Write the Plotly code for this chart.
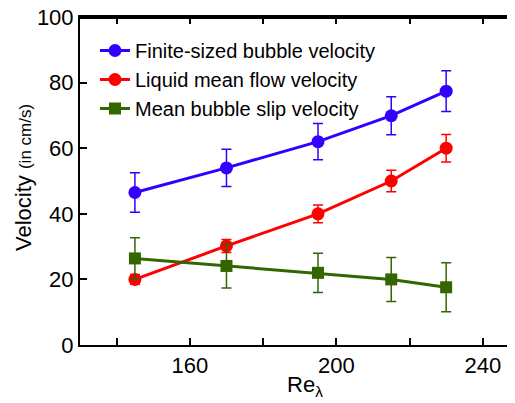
import plotly.graph_objects as go

re_lambda = [145, 170, 195, 215, 230]
bubble_vel = [46.5, 54.0, 62.0, 69.9, 77.4]
bubble_err = [6.0, 5.7, 5.5, 5.8, 6.2]
liquid_vel = [20.0, 30.2, 40.0, 50.0, 60.0]
liquid_err = [1.5, 2.0, 2.7, 3.3, 4.2]
slip_vel = [26.4, 24.1, 22.0, 20.0, 17.6]
slip_err = [6.3, 6.7, 6.0, 6.7, 7.5]

series = [
    ("Finite-sized bubble velocity", bubble_vel, bubble_err, "#3300ff", "circle", 13),
    ("Liquid mean flow velocity", liquid_vel, liquid_err, "#ff0000", "circle", 13),
    ("Mean bubble slip velocity", slip_vel, slip_err, "#336600", "square", 12),
]

fig = go.Figure()
for name, y, e, c, sym, sz in series:
    fig.add_trace(go.Scatter(
        x=re_lambda, y=y, name=name, mode="lines+markers",
        line=dict(color=c, width=3),
        marker=dict(color=c, symbol=sym, size=sz),
        error_y=dict(type="data", array=e, visible=True, color=c, thickness=1.5, width=5),
    ))

font = "Liberation Sans, Arial, Helvetica, sans-serif"
OFF = 8  # page body margin
W, H = 515 - OFF, 403 - OFF
L, R, T, B = 80 - OFF, 0, 17 - OFF, 58
pw, ph = W - L - R, H - T - B

def px_x(x):
    return (x - OFF - L) / pw

def px_y(y):
    return 1 - (y - OFF - T) / ph

fig.update_layout(
    width=W, height=H,
    margin=dict(l=L, r=R, t=T, b=B, pad=0),
    plot_bgcolor="white", paper_bgcolor="white",
    font=dict(family=font, color="black", size=22),
    showlegend=True,
    legend=dict(x=px_x(95), y=px_y(31), xanchor="left", yanchor="top",
                bgcolor="rgba(0,0,0,0)", font=dict(size=20), tracegroupgap=0,
                borderwidth=0),
    annotations=[
        dict(text="Re<sub>λ</sub>", xref="paper", yref="paper",
             x=px_x(305), y=px_y(386),
             xanchor="center", yanchor="middle", showarrow=False,
             font=dict(size=22)),
        dict(text="Velocity <span style='font-size:17px'>(in cm/s)</span>",
             xref="paper", yref="paper", textangle=-90,
             x=px_x(23), y=px_y(177),
             xanchor="center", yanchor="middle", showarrow=False,
             font=dict(size=22)),
    ],
    shapes=[
        dict(type="line", xref="paper", yref="paper", x0=0, x1=1, y0=1, y1=1,
             line=dict(color="black", width=4), layer="above"),
    ],
)
fig.update_xaxes(
    range=[130, 248.8], automargin=False, ticklabeloverflow="allow",
    tickvals=[140, 160, 180, 200, 220, 240],
    ticktext=["", "160", "", "200", "", "240"],
    ticks="inside", ticklen=7, tickwidth=1.5, tickcolor="black",
    showline=True, linewidth=2, linecolor="black", mirror="ticks",
    showgrid=False, zeroline=False,
    tickfont=dict(size=22),
)
fig.update_yaxes(
    range=[0, 100], automargin=False, ticklabeloverflow="allow",
    tickvals=[0, 20, 40, 60, 80, 100],
    ticks="inside", ticklen=7, tickwidth=1.5, tickcolor="black",
    showline=True, linewidth=2, linecolor="black", mirror="ticks",
    showgrid=False, zeroline=False,
    tickfont=dict(size=22),
)
fig.write_html("out.html")
